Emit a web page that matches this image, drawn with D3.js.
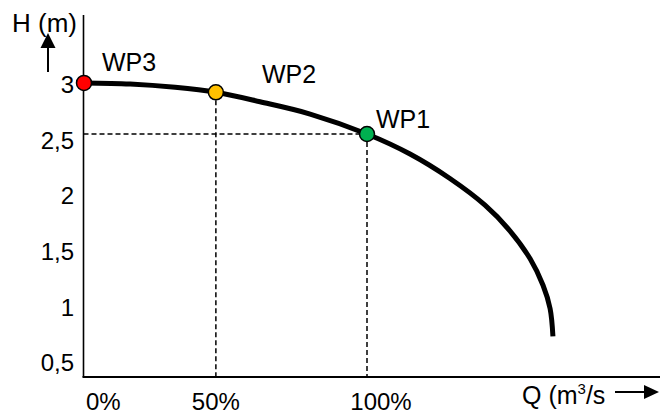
<!DOCTYPE html>
<html><head><meta charset="utf-8">
<script src="https://cdn.jsdelivr.net/npm/d3@7"></script>
<style>
html,body{margin:0;padding:0;background:#fff;}
svg{display:block;font-family:"Liberation Sans",Arial,sans-serif;}
</style></head>
<body>
<svg id="chart" width="669" height="414"></svg>
<script>
// ---- data ----
const yTickValues = [0.5, 1, 1.5, 2, 2.5, 3];
const yTickLabels = ["0,5", "1", "1,5", "2", "2,5", "3"];
const xTickValues = [0, 46.6, 100];
const xTickLabels = ["0%", "50%", "100%"];
// pump curve (Q in % of nominal, H in m)
const curveQ = [0, 16.3, 32.2, 46.6, 62.2, 79.9, 100, 115.2, 129.3, 141.7, 150.5, 157.6, 162.2, 164.7, 165.7];
const curveH = [3.01, 3.00, 2.97, 2.925, 2.84, 2.73, 2.55, 2.37, 2.15, 1.91, 1.68, 1.43, 1.19, 0.98, 0.73];
// working points
const wpNames = ["WP3", "WP2", "WP1"];
const wpQ = [0, 46.6, 100];
const wpH = [3.01, 2.925, 2.55];
const wpColors = ["#ff0000", "#ffc000", "#00b050"];

const svg = d3.select("#chart");
const x = d3.scaleLinear().domain([0, 100]).range([84, 367]);
const y = d3.scaleLinear().domain([0.5, 3]).range([362, 84]);
const x0 = 83.5, yAxisY = 377;

// axes lines
svg.append("line").attr("x1", x0).attr("x2", x0).attr("y1", 15).attr("y2", yAxisY)
  .attr("stroke", "#000").attr("stroke-width", 1.6);
svg.append("line").attr("x1", x0 - 1).attr("x2", 660).attr("y1", yAxisY).attr("y2", yAxisY)
  .attr("stroke", "#000").attr("stroke-width", 2);

// y tick labels
svg.selectAll("text.yt").data(yTickValues).enter().append("text")
  .attr("class", "yt").attr("x", 74).attr("y", d => y(d)).attr("dy", "0.38em")
  .attr("text-anchor", "end").attr("font-size", 24)
  .text((d, i) => yTickLabels[i]);

// x tick labels (first starts at the axis, last sits slightly right of its guide)
const xLblShift = i => i === xTickValues.length - 1 ? 14 : 0;
svg.selectAll("text.xt").data(xTickValues).enter().append("text")
  .attr("class", "xt").attr("x", (d, i) => i === 0 ? x(d) + 2 : x(d) + xLblShift(i))
  .attr("y", 410).attr("text-anchor", (d, i) => i === 0 ? "start" : "middle")
  .attr("font-size", 24)
  .text((d, i) => xTickLabels[i]);

// dashed guides
const dash = "5,3";
svg.append("line").attr("x1", x0).attr("x2", x(wpQ[2])).attr("y1", y(wpH[2])).attr("y2", y(wpH[2]))
  .attr("stroke", "#000").attr("stroke-width", 1.5).attr("stroke-dasharray", dash);
[1, 2].forEach(i => {
  svg.append("line").attr("x1", x(wpQ[i])).attr("x2", x(wpQ[i])).attr("y1", y(wpH[i])).attr("y2", yAxisY)
    .attr("stroke", "#000").attr("stroke-width", 1.5).attr("stroke-dasharray", dash);
});

// curve
const pts = curveQ.map((q, i) => [x(q), y(curveH[i])]);
svg.append("path").attr("d", d3.line().curve(d3.curveCatmullRom.alpha(0.5))(pts))
  .attr("fill", "none").attr("stroke", "#000").attr("stroke-width", 5);

// working points
svg.selectAll("circle.wp").data(wpQ).enter().append("circle")
  .attr("cx", d => x(d)).attr("cy", (d, i) => y(wpH[i])).attr("r", 7.5)
  .attr("fill", (d, i) => wpColors[i]).attr("stroke", "#000").attr("stroke-width", 1.5);

// working point labels
const lblOff = [[18, -12], [46, -9], [9, -6]];
svg.selectAll("text.wpl").data(wpQ).enter().append("text")
  .attr("x", (d, i) => x(d) + lblOff[i][0]).attr("y", (d, i) => y(wpH[i]) + lblOff[i][1])
  .attr("font-size", 25).text((d, i) => wpNames[i]);

// axis titles
svg.append("text").attr("x", 12).attr("y", 32).attr("font-size", 26).text("H (m)");
const qt = svg.append("text").attr("x", 522).attr("y", 404).attr("font-size", 25);
qt.append("tspan").text("Q (m");
qt.append("tspan").attr("dy", -10).attr("font-size", 15).text("3");
qt.append("tspan").attr("dy", 10).text("/s");

// arrows
svg.append("line").attr("x1", 48).attr("x2", 48).attr("y1", 72).attr("y2", 46)
  .attr("stroke", "#000").attr("stroke-width", 2);
svg.append("path").attr("d", "M48,33 L55.5,48 L40.5,48 Z").attr("fill", "#000");
svg.append("line").attr("x1", 615).attr("x2", 646).attr("y1", 392).attr("y2", 392)
  .attr("stroke", "#000").attr("stroke-width", 2);
svg.append("path").attr("d", "M659,392 L644,385 L644,399 Z").attr("fill", "#000");
</script>
</body></html>
